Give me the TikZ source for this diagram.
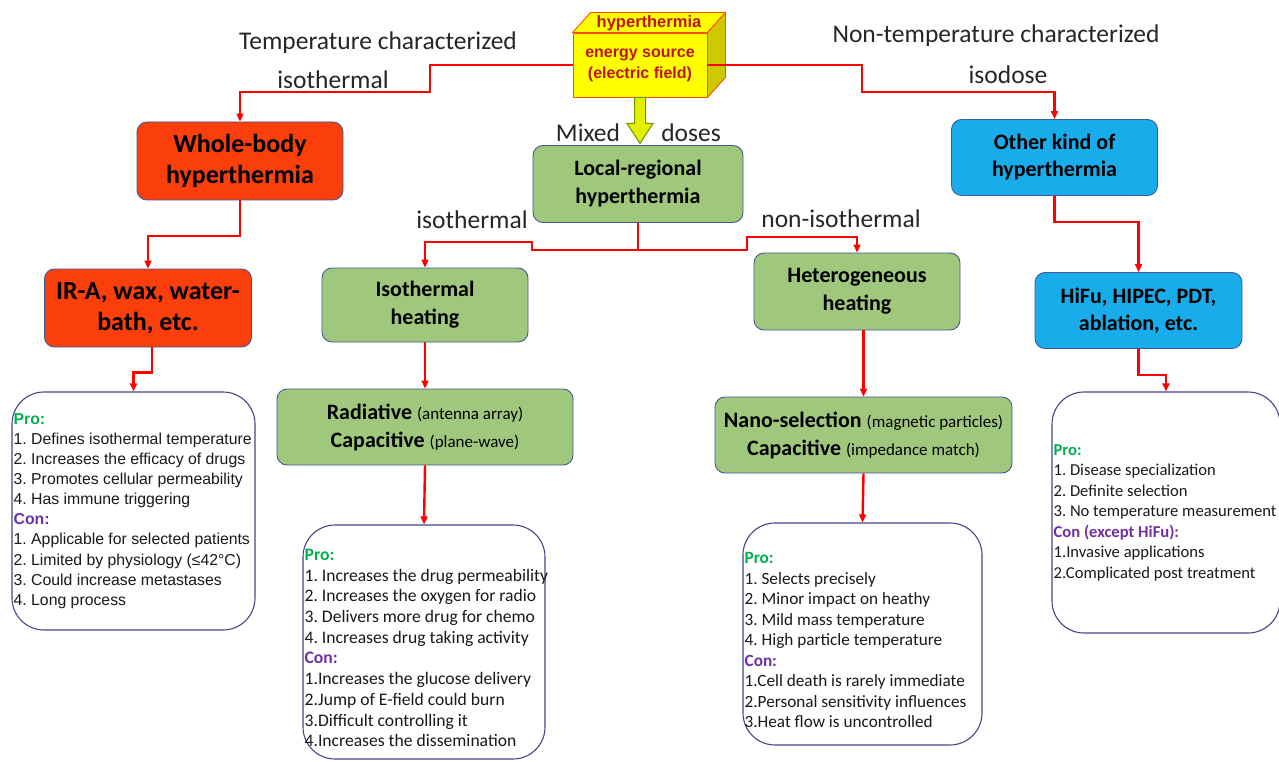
\documentclass[tikz,border=0pt]{standalone}
\usepackage{fontspec}
\setmainfont{Carlito}
\newfontfamily\arialfont{Liberation Sans}
\usetikzlibrary{arrows.meta}

\definecolor{wbred}{RGB}{250,62,12}
\definecolor{lrgreen}{RGB}{160,200,125}
\definecolor{okblue}{RGB}{25,172,235}
\definecolor{edgeblue}{RGB}{65,90,150}
\definecolor{proedge}{RGB}{70,70,140}
\definecolor{progreen}{RGB}{0,176,80}
\definecolor{conpurple}{RGB}{112,48,160}
\definecolor{cubered}{RGB}{190,20,20}
\definecolor{cubeyellow}{RGB}{255,255,0}
\definecolor{cubeside}{RGB}{205,200,0}
\definecolor{cubeedge}{RGB}{255,80,0}
\definecolor{doseyellow}{RGB}{225,240,0}
\definecolor{dosegreen}{RGB}{110,150,0}

\newcommand{\prohead}[1]{\textcolor{progreen}{\bfseries #1}}
\newcommand{\conhead}[1]{\textcolor{conpurple}{\bfseries #1}}
\newcommand{\aside}[1]{{\fontsize{17}{20}\selectfont\mdseries #1}}
\frenchspacing

\begin{document}
\begin{tikzpicture}[x=1pt,y=-1pt,>={Triangle[length=8pt,width=7pt]}]
    \tikzset{kind/.style={draw=edgeblue,rectangle,rounded corners=10pt,line width=0.9pt,align=center,inner sep=2pt,text=black},
      kindred/.style={kind,fill=wbred,minimum width=206pt,minimum height=78pt,font=\fontsize{26}{31}\selectfont\bfseries},
      kindgreen/.style={kind,fill=lrgreen,font=\fontsize{22}{28}\selectfont\bfseries},
      kindblue/.style={kind,fill=okblue,minimum width=206pt,minimum height=76pt,font=\fontsize{22}{27}\selectfont\bfseries},
      probox/.style={draw=proedge,rectangle,rounded corners=32pt,line width=1.1pt,fill=white},
      protext/.style={anchor=west,align=left,inner sep=2pt,text=black!90,font=\fontsize{17.2}{20.5}\selectfont},
      flow/.style={draw=red,line width=2.4pt},
      lbl/.style={font=\fontsize{25.5}{29}\selectfont,text=black!85}}
    \useasboundingbox (0,0) rectangle (1279,762);
    \fill[white] (0,0) rectangle (1279,762);

    % energy source cube
    \node[kind,fill=cubeyellow,draw=cubeedge,rounded corners=0pt,minimum width=134pt,minimum height=64pt,
      text=cubered,font=\arialfont\fontsize{16}{21}\selectfont\bfseries] (src) at (640,65) {energy source\\(electric field)};
    \filldraw[fill=cubeyellow,draw=cubeedge,line width=0.9pt] (src.north west) -- ++(18,-20) -- ([shift={(18,-20)}]src.north east) -- (src.north east) -- cycle;
    \filldraw[fill=cubeside,draw=cubeedge,line width=0.9pt] (src.north east) -- ++(18,-20) -- ([shift={(18,-20)}]src.south east) -- (src.south east) -- cycle;
    \node[text=cubered,font=\arialfont\fontsize{16.5}{20}\selectfont\bfseries] (srctop) at (649,23) {hyperthermia};

    % kinds of hyperthermia
    \node[kindred] (whole) at (240,161) {Whole-body\\hyperthermia};
    \node[kindred,minimum width=207pt] (irax) at (148,308) {IR-A, wax, water-\\bath, etc.};
    \node[kindgreen,minimum width=210pt,minimum height=77pt] (local) at (638,184) {Local-regional\\hyperthermia};
    \node[kindgreen,minimum width=206pt,minimum height=74pt] (isoheat) at (425,305) {Isothermal\\heating};
    \node[kindgreen,minimum width=206pt,minimum height=77pt] (hetero) at (857,291.5) {Heterogeneous\\heating};
    \node[kindgreen,minimum width=296pt,minimum height=76pt] (radcap) at (425,427) {Radiative \aside{(antenna array)}\\Capacitive \aside{(plane-wave)}};
    \node[kindgreen,minimum width=297pt,minimum height=76pt] (nanocap) at (863.5,435) {Nano-selection \aside{(magnetic particles)}\\Capacitive \aside{(impedance match)}};
    \node[kindblue] (other) at (1054.5,157.5) {Other kind of\\hyperthermia};
    \node[kindblue,minimum width=207pt] (hifu) at (1138.5,310.5) {HiFu, HIPEC, PDT,\\ablation, etc.};

    % pro / con boxes
    \node[probox,minimum width=243pt,minimum height=238pt] (pro1) at (133.5,511) {};
    \node[protext,font=\arialfont\fontsize{15.8}{20.1}\selectfont] (pro1txt) at (pro1.west) {\prohead{Pro:}\\
      1. Defines isothermal temperature\\
      2. Increases the efficacy of drugs\\
      3. Promotes cellular permeability\\
      4. Has immune triggering\\
      \conhead{Con:}\\
      1. Applicable for selected patients\\
      2. Limited by physiology (≤42°C)\\
      3. Could increase metastases\\
      4. Long process};
    \node[probox,minimum width=242pt,minimum height=234pt] (pro2) at (424,642) {};
    \node[protext,font=\fontsize{17.6}{20.7}\selectfont] (pro2txt) at ([shift={(0,6)}]pro2.west) {\prohead{Pro:}\\
      1. Increases the drug permeability\\
      2. Increases the oxygen for radio\\
      3. Delivers more drug for chemo\\
      4. Increases drug taking activity\\
      \conhead{Con:}\\
      1.Increases the glucose delivery\\
      2.Jump of E-field could burn\\
      3.Difficult controlling it\\
      4.Increases the dissemination};
    \node[probox,minimum width=239pt,minimum height=222pt] (pro3) at (862.5,634) {};
    \node[protext] (pro3txt) at ([shift={(0,6)}]pro3.west) {\prohead{Pro:}\\
      1. Selects precisely\\
      2. Minor impact on heathy\\
      3. Mild mass temperature\\
      4. High particle temperature\\
      \conhead{Con:}\\
      1.Cell death is rarely immediate\\
      2.Personal sensitivity influences\\
      3.Heat flow is uncontrolled};
    \node[probox,minimum width=228pt,minimum height=241pt] (pro4) at (1166,512.5) {};
    \node[protext,font=\fontsize{16.6}{20.5}\selectfont] (pro4txt) at (pro4.west) {\prohead{Pro:}\\
      1. Disease specialization\\
      2. Definite selection\\
      3. No temperature measurement\\
      \conhead{Con (except HiFu):}\\
      1.Invasive applications\\
      2.Complicated post treatment};

    % labels
    \node[lbl] (tempchar) at (378,43) {Temperature characterized};
    \node[lbl] (isoleft) at (333,80) {isothermal};
    \node[lbl] (nontemp) at (996,36) {Non-temperature characterized};
    \node[lbl] (isodose) at (1008,75) {isodose};
    \node[lbl] (mixed) at (588,133) {Mixed};
    \node[lbl] (doses) at (691,133) {doses};
    \node[lbl] (isomid) at (472,220) {isothermal};
    \node[lbl] (noniso) at (841,219) {non-isothermal};

    % connectors
    \draw[flow,->] (src.west) -- (430,65) -- (430,92) -| (whole.north);
    \draw[flow,->] (src.east) -- (862,65) -- (862,92) -| (other.north);
    \draw[flow,->] (whole.south) -- (240,236) -| (irax.north);
    \draw[flow,->] ([xshift=4pt]irax.south) -- ++(0,25) -| (pro1.north);
    \coordinate (split) at (638,250);
    \draw[flow,->] (local.south) -- (split) -- (532,250) -- (532,242) -| (isoheat.north);
    \draw[flow,->] (split) -- (747,250) -- (747,237) -| (hetero.north);
    \draw[flow,->] (isoheat.south) -- (radcap.north);
    \draw[flow,->] (radcap.south) -- (pro2.north);
    \draw[flow,->] (nanocap.north |- hetero.south) -- (nanocap.north);
    \draw[flow,->] (nanocap.south) -- (pro3.north);
    \draw[flow,->] (other.south) -- ++(0,26) -| (hifu.north);
    \draw[flow,->] (hifu.south) -- ++(0,26) -| (pro4.north);
    % mixed doses arrow
    \filldraw[fill=doseyellow,draw=dosegreen,line width=1pt] (src.south) ++(-5.5,0) -- ++(11,0) -- ++(0,26) -- ++(7.5,0)
      -- ++(-13,20) -- ++(-13,-20) -- ++(7.5,0) -- cycle;
\end{tikzpicture}
\end{document}
